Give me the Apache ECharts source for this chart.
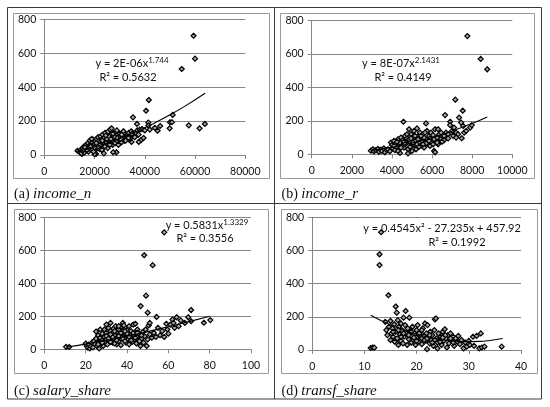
<!DOCTYPE html>
<html><head><meta charset="utf-8">
<script src="https://cdn.jsdelivr.net/npm/echarts@6/dist/echarts.min.js"></script>
<style>html,body{margin:0;padding:0;background:#fff;}#c{width:550px;height:407px;}</style>
</head><body><div id="c"></div>
<script>
// ---------- data ----------
const panelTags = ['(a)', '(b)', '(c)', '(d)'];
const panelNames = ['income_n', 'income_r', 'salary_share', 'transf_share'];
const xMax = [80000, 10000, 100, 40];
const xStep = [20000, 2000, 20, 10];
const yMax = 800;
const yStep = 200;

const ptsA = [
  [59400,703],[60000,568],[54700,507],[41600,324],[40500,261],[35300,222],[36900,183],[41400,191],[41400,174],
  [51100,236],[50000,193],[50800,193],[49900,157],[46100,171],[45100,143],[57500,175],[61800,157],[63900,183],
  [38500,88],[39500,100],[37600,77],[34700,77],[28700,16],[27400,16],[13200,25],[15000,6],[20600,6],[23700,10],[20000,5],
  [14200,15],[14500,30],[14800,10],[15200,40],[15500,22],[15800,50],[16000,15],[16300,35],[16600,60],[16800,28],
  [17200,45],[17400,70],[17600,20],[17900,55],[18100,85],[18300,38],[18600,62],[18800,30],[19000,75],[19200,50],
  [19500,90],[19700,42],[19900,65],[20100,28],[20300,80],[20500,55],[20800,95],[21000,40],[21200,70],[21400,105],
  [21600,60],[21800,85],[22000,35],[22200,75],[22400,110],[22600,50],[22800,90],[23000,65],[23200,120],[23400,80],
  [23600,45],[23800,100],[24000,70],[24200,130],[24400,58],[24600,92],[24800,75],[25000,110],[25200,40],[25400,138],
  [25600,85],[25800,65],[26000,100],[26200,150],[26400,75],[26600,120],[26800,157],[27000,90],[27200,60],[27400,110],
  [27600,80],[27800,130],[28000,95],[28200,70],[28400,115],[28600,100],[28800,135],[29000,85],[29200,120],[29500,60],
  [29700,105],[30000,125],[30200,90],[30500,110],[30700,75],[31000,130],[31300,100],[31600,115],[31900,85],[32200,125],
  [32500,105],[32800,95],[33000,120],[33300,110],[33600,130],[33900,90],[34200,100],[34600,140],[35000,115],[35500,125],
  [36000,105],[36500,130],[37000,145],[37500,120],[38000,150],[38900,153],[34800,124],[40000,145],[42000,150],[44000,160],
  [15600,30],[16200,45],[17000,30],[17800,40],[18500,50],[19300,35],[20000,45],[20700,70],[21500,50],[22300,60],
  [23100,85],[24100,50],[24900,95],[25700,110],[26500,95],[27300,125],[28100,105],[29100,100],[30400,95],[31500,140],
  [32400,85],[33500,100],[26100,60],[22900,30],[19600,20],[18900,95],[24500,115],[28900,145],[30800,120]
];
const ptsB = [
  [2950,22],[3050,30],[3100,18],[3200,25],[3300,32],[3350,15],[3450,28],[3500,20],[3600,35],[3650,12],[3750,25],
  [3800,30],[3900,18],[3950,70],[4000,55],[4050,35],[4100,80],[4150,25],[4200,60],[4250,45],[4300,90],[4350,30],
  [4400,70],[4450,100],[4500,50],[4550,85],[4570,195],[4600,40],[4650,110],[4700,65],[4750,95],[4800,30],[4850,150],
  [4900,75],[4950,120],[5000,55],[5050,100],[5100,140],[5150,80],[5200,45],[5250,155],[5300,110],[5350,70],[5400,130],
  [5450,90],[5500,50],[5550,120],[5600,100],[5650,75],[5700,185],[5750,140],[5800,60],[5850,110],[5900,95],[5950,130],
  [6000,70],[6050,115],[6100,20],[6150,12],[6150,150],[6200,85],[6250,100],[6300,150],[6350,120],[6400,75],[6450,95],
  [6500,110],[6600,85],[6650,235],[6700,130],[6800,120],[6900,195],[6900,175],[7000,140],[7050,110],[7100,160],
  [7160,327],[7200,130],[7300,120],[7350,220],[7450,190],[7480,96],[7530,261],[7550,170],[7600,130],[7700,140],
  [7900,160],[7980,175],[7760,708],[8425,571],[8750,509],[4400,8],[4800,5],[5200,30],[5600,40],[4300,20],[5000,20],
  [4600,75],[4900,45],[5100,60],[5300,90],[5500,80],[5700,65],[5900,50],[6100,90],[6300,60],[6500,75],[6800,95],
  [4100,50],[4250,75],[4450,40],[4650,60],[4850,90],[5050,70],[5250,60],[5450,110],[5650,130],[5850,80],[6050,60],
  [6250,70],[6450,130],[5150,110],[4950,95],[5550,60],[5350,45],[4750,120],[6600,110],[7200,100]
];
const ptsC = [
  [10.5,15],[12,14],[20,35],[20.5,20],[21,10],[21.5,28],[22,5],[22.5,18],[23,40],[23.5,12],[24,50],[24.5,30],
  [25,108],[25,65],[25.5,20],[26,85],[26,45],[26.5,5],[27,70],[27.5,35],[28,95],[28,55],[28.5,20],[29,120],[29,75],
  [29.5,45],[30,100],[30,60],[30.5,30],[31,85],[31,130],[31.5,50],[32,160],[32,110],[32.5,70],[33,40],[33,95],
  [33.5,125],[34,60],[34,85],[34.5,140],[35,30],[35,105],[35.5,70],[36,120],[36,50],[36.5,90],[37,135],[37,25],
  [37.5,75],[38,110],[38,160],[38.5,55],[39,95],[39,130],[39.5,40],[40,80],[40,115],[40.5,60],[41,140],[41,30],
  [41.5,90],[42,70],[42,110],[42.5,45],[43,150],[43,85],[43.5,60],[44,100],[44.5,35],[45,75],[45,120],[45.5,55],
  [46,90],[46.6,262],[46.5,20],[47,65],[47.5,105],[48,40],[48.3,570],[48.5,80],[49,120],[49.2,325],[49.5,20],
  [50,222],[50,60],[50.5,145],[51,160],[51,90],[52,70],[52.4,510],[53,100],[54,75],[54.3,196],[55,130],[56,85],
  [57,110],[58,709],[58,75],[59,155],[59.5,120],[60,95],[61,150],[62,180],[62.5,160],[63,130],[64,194],[65,140],
  [66,175],[68,160],[69.6,194],[71,238],[71,170],[77.2,161],[80.3,177],[30,150],[27,120],[44,155],[38.5,145],
  [26,30],[28,40],[30,80],[31,65],[32,45],[33,75],[34,110],[35,55],[36,80],[37,100],[38,65],[39,50],[40,95],
  [41,75],[42,55],[43,100],[44,70],[45,100],[46,50],[47,85],[34,35],[36,140],[39,110],[32,90]
];
const ptsD = [
  [11.2,12],[11.6,15],[11.9,14],[12.9,577],[12.9,512],[13.2,710],[14,170],[14.2,120],[14.4,90],[14.6,330],[14.7,140],
  [15,60],[15,175],[15.2,100],[15.4,130],[15.5,80],[15.7,155],[15.8,50],[16,262],[16,110],[16.2,225],[16.3,70],
  [16.4,180],[16.5,30],[16.6,140],[16.8,95],[17,160],[17,55],[17.2,120],[17.4,40],[17.5,195],[17.6,80],[17.8,150],
  [17.9,235],[18,100],[18.2,30],[18.3,130],[18.5,65],[18.6,195],[18.8,110],[19,45],[19,85],[19.2,140],[19.4,60],
  [19.6,100],[19.8,30],[20,120],[20,75],[20.2,150],[20.4,50],[20.6,90],[20.8,110],[21,35],[21,70],[21.2,130],
  [21.4,85],[21.6,160],[21.7,55],[21.9,100],[22,5],[22.1,150],[22.3,75],[22.5,40],[22.6,110],[22.8,60],[23,90],
  [23.2,25],[23.4,120],[23.5,185],[23.7,190],[23.8,70],[24,10],[24,45],[24.2,100],[24.4,60],[24.6,80],[24.8,30],
  [25,110],[25.2,55],[25.4,125],[25.6,70],[25.8,15],[26,90],[26.2,40],[26.5,100],[26.8,60],[27,80],[27.2,25],
  [27.5,70],[27.8,50],[28,85],[28.3,35],[28.6,60],[29,10],[29.3,45],[29.6,20],[30,55],[30.2,30],[30.8,80],[31,25],
  [31.5,85],[32,10],[32.3,100],[32.5,15],[33,20],[36.3,20],
  [15.5,110],[16.5,120],[17.5,100],[18.5,90],[19.5,75],[20.5,100],[21.5,60],[22.5,90],[23.5,60],[24.5,50],
  [25.5,90],[26.5,70],[17,80],[19,110],[21,120],[23,45],[25,75],[27,45],[20,55],[22,70]
];

const trendAX = [12500, 20000, 30000, 40000, 50000, 56000, 64000];
const trendAY = [21, 48, 97, 160, 237, 288, 364];
const trendBX = [2950, 4000, 5000, 6000, 7000, 8000, 8750];
const trendBY = [22, 42, 68, 100, 139, 185, 224];
const trendCX = [11, 20, 30, 40, 50, 60, 70, 80];
const trendCY = [14.3, 31.6, 54.3, 79.6, 107.2, 136.7, 167.9, 200.6];
const trendDX = [11.2, 14, 17, 20, 23, 26, 29, 32, 34, 36.5];
const trendDY = [209.9, 165.7, 126.3, 95.0, 71.9, 57.1, 50.4, 51.8, 57.3, 69.3];

const eqMain = ['y = 2E-06x', 'y = 8E-07x', 'y = 0.5831x', 'y = 0.4545x² - 27.235x + 457.92'];
const eqSup = ['1.744', '2.1431', '1.3329', ''];
const eqR2 = ['R² = 0.5632', 'R² = 0.4149', 'R² = 0.3556', 'R² = 0.1992'];

// ---------- layout / style ----------
const grids = [
  {left: 44.3, top: 19.3, width: 201, height: 135.7},
  {left: 311.7, top: 20.7, width: 200.6, height: 133.6},
  {left: 44.4, top: 217.3, width: 206.6, height: 132},
  {left: 312.2, top: 217.3, width: 208.8, height: 132.7}
];
const eqPos = [
  {x1: 132, y1: 63.3, x2: 128, y2: 77.5},
  {x1: 401, y1: 63.3, x2: 403, y2: 77.2},
  {x1: 207, y1: 225, x2: 205, y2: 238.5},
  {x1: 442, y1: 228.3, x2: 457, y2: 242.3}
];
const tagPos = [[14, 194.5], [281.5, 194], [14, 391.5], [281.5, 391.5]];
const boxes = [[13, 13, 269, 178], [280, 13, 534, 178], [14, 209, 268, 373], [281, 209, 537, 373]];

const AXC = '#868686';
const FONT = 'Lato, "Noto Sans", sans-serif';
const SERIF = '"Liberation Serif", "DejaVu Serif", serif';

const pts = [ptsA, ptsB, ptsC, ptsD];
const trends = [[trendAX, trendAY], [trendBX, trendBY], [trendCX, trendCY], [trendDX, trendDY]];

const xAxes = [], yAxes = [], series = [], graphics = [];
for (let i = 0; i < 4; i++) {
  xAxes.push({
    gridIndex: i, type: 'value', min: 0, max: xMax[i], interval: xStep[i],
    axisLine: {show: true, onZero: false, lineStyle: {color: AXC, width: 1}},
    axisTick: {show: true, inside: false, length: 4, lineStyle: {color: AXC}},
    splitLine: {show: false},
    axisLabel: {color: '#111', fontFamily: FONT, fontSize: 10.5, margin: 11, formatter: v => String(v)}
  });
  yAxes.push({
    gridIndex: i, type: 'value', min: 0, max: yMax, interval: yStep,
    axisLine: {show: true, lineStyle: {color: AXC, width: 1}},
    axisTick: {show: true, inside: false, length: 4, lineStyle: {color: AXC}},
    splitLine: {show: true, lineStyle: {color: AXC, width: 1}},
    axisLabel: {color: '#111', fontFamily: FONT, fontSize: 10.5, margin: 8}
  });
  series.push({
    type: 'scatter', xAxisIndex: i, yAxisIndex: i, data: pts[i],
    symbol: 'diamond', symbolSize: 5,
    itemStyle: {color: '#a8a8a8', borderColor: '#000', borderWidth: 1.2, opacity: 1},
    z: 2
  });
  const tx = trends[i][0], ty = trends[i][1];
  series.push({
    type: 'line', xAxisIndex: i, yAxisIndex: i, data: tx.map((x, k) => [x, ty[k]]),
    smooth: true, symbol: 'none', lineStyle: {color: '#000', width: 1.1}, z: 3, silent: true
  });
  // equation texts
  const p = eqPos[i];
  graphics.push({
    type: 'text', x: p.x1, y: p.y1, z: 10,
    style: {
      text: eqSup[i] ? '{m|' + eqMain[i] + '}{s|' + eqSup[i] + '}' : '{m|' + eqMain[i] + '}',
      rich: {
        m: {fontFamily: FONT, fontSize: 11, fill: '#111', lineHeight: 14},
        s: {fontFamily: FONT, fontSize: 8, fill: '#111', verticalAlign: 'top', lineHeight: 9}
      },
      align: 'center', verticalAlign: 'middle', textAlign: 'center', textVerticalAlign: 'middle'
    }
  });
  graphics.push({
    type: 'text', x: p.x2, y: p.y2, z: 10,
    style: {
      text: eqR2[i], fontFamily: FONT, fontSize: 11, fill: '#111',
      align: 'center', verticalAlign: 'middle', textAlign: 'center', textVerticalAlign: 'middle'
    }
  });
  // panel tags
  graphics.push({
    type: 'text', x: tagPos[i][0], y: tagPos[i][1], z: 10,
    style: {
      text: '{p|' + panelTags[i] + ' }{n|' + panelNames[i] + '}',
      rich: {
        p: {fontFamily: SERIF, fontSize: 14, fill: '#111'},
        n: {fontFamily: SERIF, fontSize: 15, fontStyle: 'italic', fill: '#111'}
      },
      align: 'left', verticalAlign: 'middle', textAlign: 'left', textVerticalAlign: 'middle'
    }
  });
  // chart-area boxes
  const b = boxes[i];
  graphics.push({
    type: 'rect', z: 1, silent: true,
    shape: {x: b[0] + 0.5, y: b[1] + 0.5, width: b[2] - b[0], height: b[3] - b[1]},
    style: {fill: 'none', stroke: '#9a9a9a', lineWidth: 1}
  });
}
// table lines
graphics.push({type: 'rect', z: 1, silent: true, shape: {x: 7.5, y: 7.5, width: 534, height: 391.5},
  style: {fill: 'none', stroke: '#3a3a3a', lineWidth: 1}});
graphics.push({type: 'line', z: 1, silent: true, shape: {x1: 274.5, y1: 7.5, x2: 274.5, y2: 399}, style: {stroke: '#3a3a3a', lineWidth: 1}});
graphics.push({type: 'line', z: 1, silent: true, shape: {x1: 7.5, y1: 203.5, x2: 541.5, y2: 203.5}, style: {stroke: '#3a3a3a', lineWidth: 1}});

const chart = echarts.init(document.getElementById('c'), null, {renderer: 'canvas'});
chart.setOption({
  animation: false,
  backgroundColor: '#fff',
  grid: grids.map(g => Object.assign({outerBoundsMode: 'none', containLabel: false}, g)),
  xAxis: xAxes,
  yAxis: yAxes,
  series: series,
  graphic: graphics
});
</script></body></html>
